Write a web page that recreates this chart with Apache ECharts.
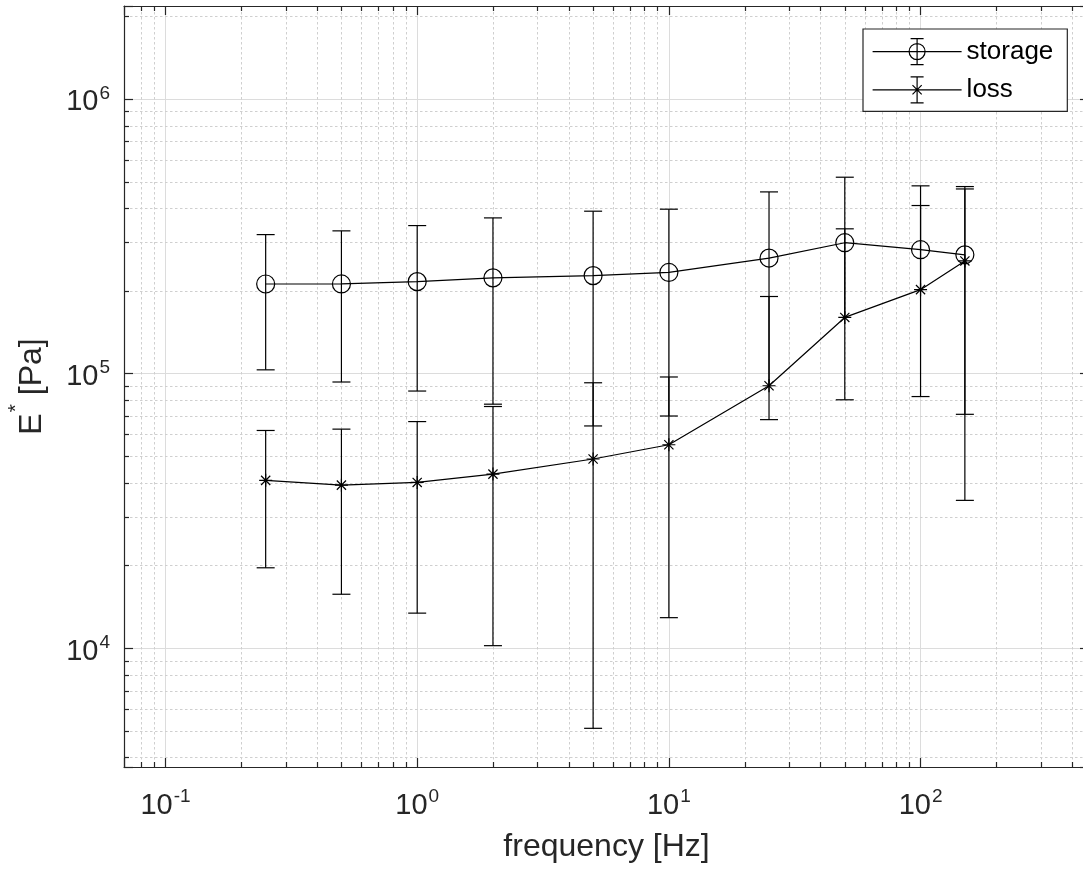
<!DOCTYPE html>
<html>
<head>
<meta charset="utf-8">
<script src="https://cdn.jsdelivr.net/npm/echarts@6/dist/echarts.min.js"></script>
<style>
html,body{margin:0;padding:0;background:#fff;}
#chart{width:1083px;height:877px;}
</style>
</head>
<body>
<div id="chart"></div>
<script>
// ---- data ----
const frequency   = [0.25, 0.5, 1, 2, 5, 10, 25, 50, 100, 150];
const storageMean = [2.118e5, 2.119e5, 2.16e5, 2.23e5, 2.272e5, 2.333e5, 2.632e5, 2.994e5, 2.824e5, 2.705e5];
const storageErr  = [1.087e5, 1.188e5, 1.297e5, 1.457e5, 1.628e5, 1.633e5, 1.953e5, 2.192e5, 2.0e5, 1.995e5];
const lossMean    = [4.08e4, 3.92e4, 4.01e4, 4.30e4, 4.88e4, 5.50e4, 9.02e4, 1.60e5, 2.02e5, 2.57e5];
const lossErr     = [2.12e4, 2.35e4, 2.67e4, 3.28e4, 4.37e4, 4.21e4, 1.005e5, 1.764e5, 2.07e5, 2.225e5];
const seriesNames = ['storage', 'loss'];
const xTickValues = [0.1, 1, 10, 100];
const xTickExps   = ['-1', '0', '1', '2'];
const yTickValues = [1e4, 1e5, 1e6];
const yTickExps   = ['4', '5', '6'];
const xRange = [0.0684, 467];
const yRange = [3687, 2.18e6];
const xName = 'frequency [Hz]';
const yName = '{m|E}{s|*}{m| [Pa]}';

// ---- styling ----
const FONT = '"Liberation Sans", Arial, Helvetica, sans-serif';
const AX = '#262626';
const MAJOR_GRID = '#dcdcdc';
const MINOR_GRID = '#cfcfcf';

function minorValues(range) {
  const out = [];
  const d0 = Math.floor(Math.log10(range[0])), d1 = Math.ceil(Math.log10(range[1]));
  for (let d = d0; d <= d1; d++) {
    for (let k = 2; k <= 9; k++) {
      const v = k * Math.pow(10, d);
      if (v > range[0] * 1.03 && v < range[1] / 1.01) out.push(v);
    }
  }
  return out;
}
const minorX = minorValues(xRange);
const minorY = minorValues(yRange);

function makeFormatter(vals, exps) {
  return function (v) {
    for (let i = 0; i < vals.length; i++) {
      if (Math.abs(Math.log10(v) - Math.log10(vals[i])) < 1e-6) return '{b|10}{s|' + exps[i] + '}';
    }
    return '';
  };
}
const tickRich = {
  b: {fontSize: 29, lineHeight: 29, padding: [7, 0, 0, 0], fontFamily: FONT, color: AX, verticalAlign: 'middle'},
  s: {fontSize: 19, lineHeight: 19, padding: [0, 0, 11, 1], fontFamily: FONT, color: AX, verticalAlign: 'middle'}
};
const axisLineStyle = {color: AX, width: 1.2};

function minorGridRender(isX) {
  return function (params, api) {
    const cs = params.coordSys;
    const v = api.value(isX ? 0 : 1);
    const p = api.coord(isX ? [v, yRange[0]] : [xRange[0], v]);
    const gs = {stroke: MINOR_GRID, lineWidth: 1, lineDash: [2.5, 2.5], fill: null};
    const ts = {stroke: AX, lineWidth: 1.2, fill: null};
    const x0 = cs.x, y0 = cs.y, x1 = cs.x + cs.width, y1 = cs.y + cs.height;
    if (isX) {
      const x = Math.round(p[0]) + 0.5;
      return {type: 'group', children: [
        {type: 'line', shape: {x1: x, y1: y0 + 1, x2: x, y2: y1 - 1}, style: gs},
        {type: 'line', shape: {x1: x, y1: y1, x2: x, y2: y1 - 5}, style: ts},
        {type: 'line', shape: {x1: x, y1: y0, x2: x, y2: y0 + 5}, style: ts}
      ]};
    }
    const y = Math.round(p[1]) + 0.5;
    return {type: 'group', children: [
      {type: 'line', shape: {x1: x0 + 1, y1: y, x2: x1 - 1, y2: y}, style: gs},
      {type: 'line', shape: {x1: x0, y1: y, x2: x0 + 5, y2: y}, style: ts},
      {type: 'line', shape: {x1: x1, y1: y, x2: x1 - 5, y2: y}, style: ts}
    ]};
  };
}

function errorBarRender(params, api) {
  const x = api.value(0), m = api.value(1), e = api.value(2);
  const hi = m + e, lo = m - e;
  const pc = api.coord([x, m]);
  const ph = api.coord([x, hi]);
  const st = {stroke: '#000', lineWidth: 1.2, fill: null};
  const cx = pc[0];
  const children = [];
  let yb = pc[1];
  if (lo > 0) {
    yb = api.coord([x, lo])[1];
    children.push({type: 'line', shape: {x1: cx - 9, y1: yb, x2: cx + 9, y2: yb}, style: st});
  }
  children.push({type: 'line', shape: {x1: cx, y1: yb, x2: cx, y2: ph[1]}, style: st});
  children.push({type: 'line', shape: {x1: cx - 9, y1: ph[1], x2: cx + 9, y2: ph[1]}, style: st});
  return {type: 'group', children: children};
}

const ASTERISK = 'path://M6,0L6,12M0,6L12,6M1.76,1.76L10.24,10.24M1.76,10.24L10.24,1.76';
const LEG_STORAGE = 'path://M0,14L89,14M44.5,1L44.5,27M38,1L51,1M38,27L51,27M52.5,14A8,8 0 1,1 36.5,14A8,8 0 1,1 52.5,14M0,0M89,28';
const LEG_LOSS = 'path://M0,14L89,14M44.5,1L44.5,27M38,1L51,1M38,27L51,27M38,14L51,14M44.5,7.5L44.5,20.5M39.9,9.4L49.1,18.6M39.9,18.6L49.1,9.4M0,0M89,28';

const chart = echarts.init(document.getElementById('chart'), null, {renderer: 'canvas'});
const option = {
  animation: false,
  backgroundColor: '#fff',
  grid: {left: 124, right: -6, top: 6, bottom: 110, containLabel: false, outerBoundsMode: 'none'},
  legend: {
    show: true,
    orient: 'vertical',
    left: 863, top: 29,
    padding: [8, 14, 7, 9],
    itemGap: 9,
    itemWidth: 89, itemHeight: 28,
    backgroundColor: '#fff',
    borderColor: AX, borderWidth: 1.2, borderRadius: 0,
    selectedMode: false,
    textStyle: {fontSize: 26, color: '#000', fontFamily: FONT},
    itemStyle: {color: 'rgba(0,0,0,0)', borderColor: '#000', borderWidth: 1.2},
    data: [{name: seriesNames[0], icon: LEG_STORAGE}, {name: seriesNames[1], icon: LEG_LOSS}]
  },
  xAxis: [{
    type: 'log', logBase: 10, min: xRange[0], max: xRange[1], position: 'bottom',
    name: xName, nameLocation: 'middle', nameGap: 64, nameMoveOverlap: false,
    nameTextStyle: {fontSize: 32, color: AX, fontFamily: FONT},
    axisLine: {show: true, onZero: false, lineStyle: axisLineStyle},
    axisTick: {show: true, inside: true, length: 9, lineStyle: axisLineStyle},
    axisLabel: {show: true, formatter: makeFormatter(xTickValues, xTickExps), margin: 21, rich: tickRich, color: AX},
    splitLine: {show: true, lineStyle: {color: MAJOR_GRID, width: 1}},
    minorTick: {show: false}, minorSplitLine: {show: false}
  }, {
    type: 'log', logBase: 10, min: xRange[0], max: xRange[1], position: 'top',
    axisLine: {show: true, onZero: false, lineStyle: axisLineStyle},
    axisTick: {show: true, inside: true, length: 9, lineStyle: axisLineStyle},
    axisLabel: {show: false}, splitLine: {show: false}
  }],
  yAxis: [{
    type: 'log', logBase: 10, min: yRange[0], max: yRange[1], position: 'left',
    name: yName, nameLocation: 'middle', nameGap: 76, nameRotate: 90, nameMoveOverlap: false,
    nameTextStyle: {fontSize: 32, color: AX, fontFamily: FONT, rich: {
      m: {fontSize: 32, lineHeight: 32, fontFamily: FONT, color: AX, verticalAlign: 'middle'},
      s: {fontSize: 21, lineHeight: 21, padding: [0, 0, 31, 1], fontFamily: FONT, color: AX, verticalAlign: 'middle'}
    }},
    axisLine: {show: true, onZero: false, lineStyle: axisLineStyle},
    axisTick: {show: true, inside: true, length: 9, lineStyle: axisLineStyle},
    axisLabel: {show: true, formatter: makeFormatter(yTickValues, yTickExps), margin: 14, rich: tickRich, color: AX},
    splitLine: {show: true, lineStyle: {color: MAJOR_GRID, width: 1}},
    minorTick: {show: false}, minorSplitLine: {show: false}
  }, {
    type: 'log', logBase: 10, min: yRange[0], max: yRange[1], position: 'right',
    axisLine: {show: true, onZero: false, lineStyle: axisLineStyle},
    axisTick: {show: true, inside: true, length: 9, lineStyle: axisLineStyle},
    axisLabel: {show: false}, splitLine: {show: false}
  }],
  series: [
    {
      name: 'minor-x', type: 'custom', xAxisIndex: 0, yAxisIndex: 0, z: 1, silent: true,
      renderItem: minorGridRender(true), encode: {x: 0, y: 1},
      data: minorX.map(v => [v, yRange[0]])
    },
    {
      name: 'minor-y', type: 'custom', xAxisIndex: 0, yAxisIndex: 0, z: 1, silent: true,
      renderItem: minorGridRender(false), encode: {x: 0, y: 1},
      data: minorY.map(v => [xRange[0], v])
    },
    {
      name: 'storage-err', type: 'custom', z: 3, silent: true,
      renderItem: errorBarRender, encode: {x: 0, y: 1},
      data: frequency.map((f, i) => [f, storageMean[i], storageErr[i]])
    },
    {
      name: 'loss-err', type: 'custom', z: 3, silent: true,
      renderItem: errorBarRender, encode: {x: 0, y: 1},
      data: frequency.map((f, i) => [f, lossMean[i], lossErr[i]])
    },
    {
      name: seriesNames[0], type: 'line', z: 4, silent: true,
      data: frequency.map((f, i) => [f, storageMean[i]]),
      symbol: 'circle', symbolSize: 18,
      lineStyle: {color: '#000', width: 1.2},
      itemStyle: {color: 'rgba(0,0,0,0)', borderColor: '#000', borderWidth: 1.2},
      emphasis: {disabled: true}
    },
    {
      name: seriesNames[1], type: 'line', z: 4, silent: true,
      data: frequency.map((f, i) => [f, lossMean[i]]),
      symbol: ASTERISK, symbolSize: 13,
      lineStyle: {color: '#000', width: 1.2},
      itemStyle: {color: 'rgba(0,0,0,0)', borderColor: '#000', borderWidth: 1.2},
      emphasis: {disabled: true}
    }
  ]
};
chart.setOption(option);
</script>
</body>
</html>
